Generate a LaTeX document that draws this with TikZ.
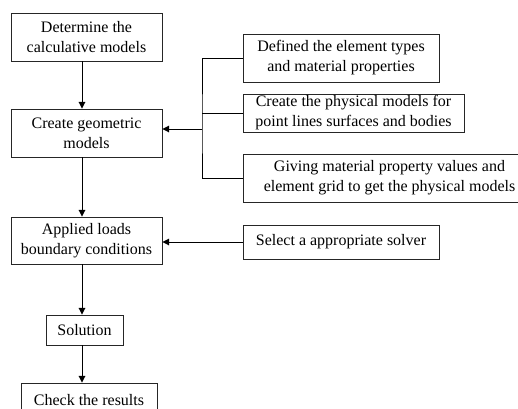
\documentclass[tikz,border=0pt]{standalone}
\usepackage{fontspec}
\setmainfont{Liberation Serif}
\usetikzlibrary{arrows.meta}
\tikzset{
  box/.style={draw=black!85, line width=0.7pt, align=center, inner sep=0pt,
    font=\fontsize{12}{15}\selectfont},
  arr/.style={line width=0.7pt, -{Triangle[length=5pt,width=5pt]}}
}
\begin{document}
\begin{tikzpicture}[x=0.75pt,y=-0.75pt]
\useasboundingbox (0,0) rectangle (518,408);
\node[box, minimum width=113.25pt, minimum height=36pt] (calc) at (86.5,37) {Determine the\\calculative models};
\node[box, minimum width=113.25pt, minimum height=36pt] (geo) at (86.5,133) {Create geometric\\models};
\node[box, minimum width=113.25pt, minimum height=35.25pt] (loads) at (86.5,240.5) {Applied loads\\boundary conditions};
\node[box, minimum width=57.75pt, minimum height=22.5pt] (sol) at (84.5,330) {Solution};
\node[box, minimum width=102pt, minimum height=25.5pt] (check) at (89,400) {Check the results};
\node[box, minimum width=147pt, minimum height=36pt] (typ) at (341,58) {Defined the element types\\and material properties};
\node[box, minimum width=165.75pt, minimum height=28.5pt] (phys) at (353.5,113) {Create the physical models for\\point lines surfaces and bodies};
\node[box, minimum width=219.75pt, minimum height=36pt] (give) at (389.5,178) {Giving material property values and\\element grid to get the physical models};
\node[box, minimum width=147pt, minimum height=25.5pt] (solver) at (341,242) {Select a appropriate solver};
\coordinate (spine) at (82,0);
\coordinate (brk) at (202,129);
\draw[arr] (calc.south -| spine) -- (geo.north -| spine);
\draw[arr] (geo.south -| spine) -- (loads.north -| spine);
\draw[arr] (loads.south -| spine) -- (sol.north -| spine);
\draw[arr] (sol.south -| spine) -- (check.north -| spine);
\draw[line width=0.7pt] (typ.west) -| (brk) |- (give.west);
\draw[line width=0.7pt] (phys.west) -- (phys.west -| brk);
\draw[arr] (brk) -- (brk -| geo.east);
\draw[arr] (solver.west) -- (solver.west -| loads.east);
\end{tikzpicture}
\end{document}
